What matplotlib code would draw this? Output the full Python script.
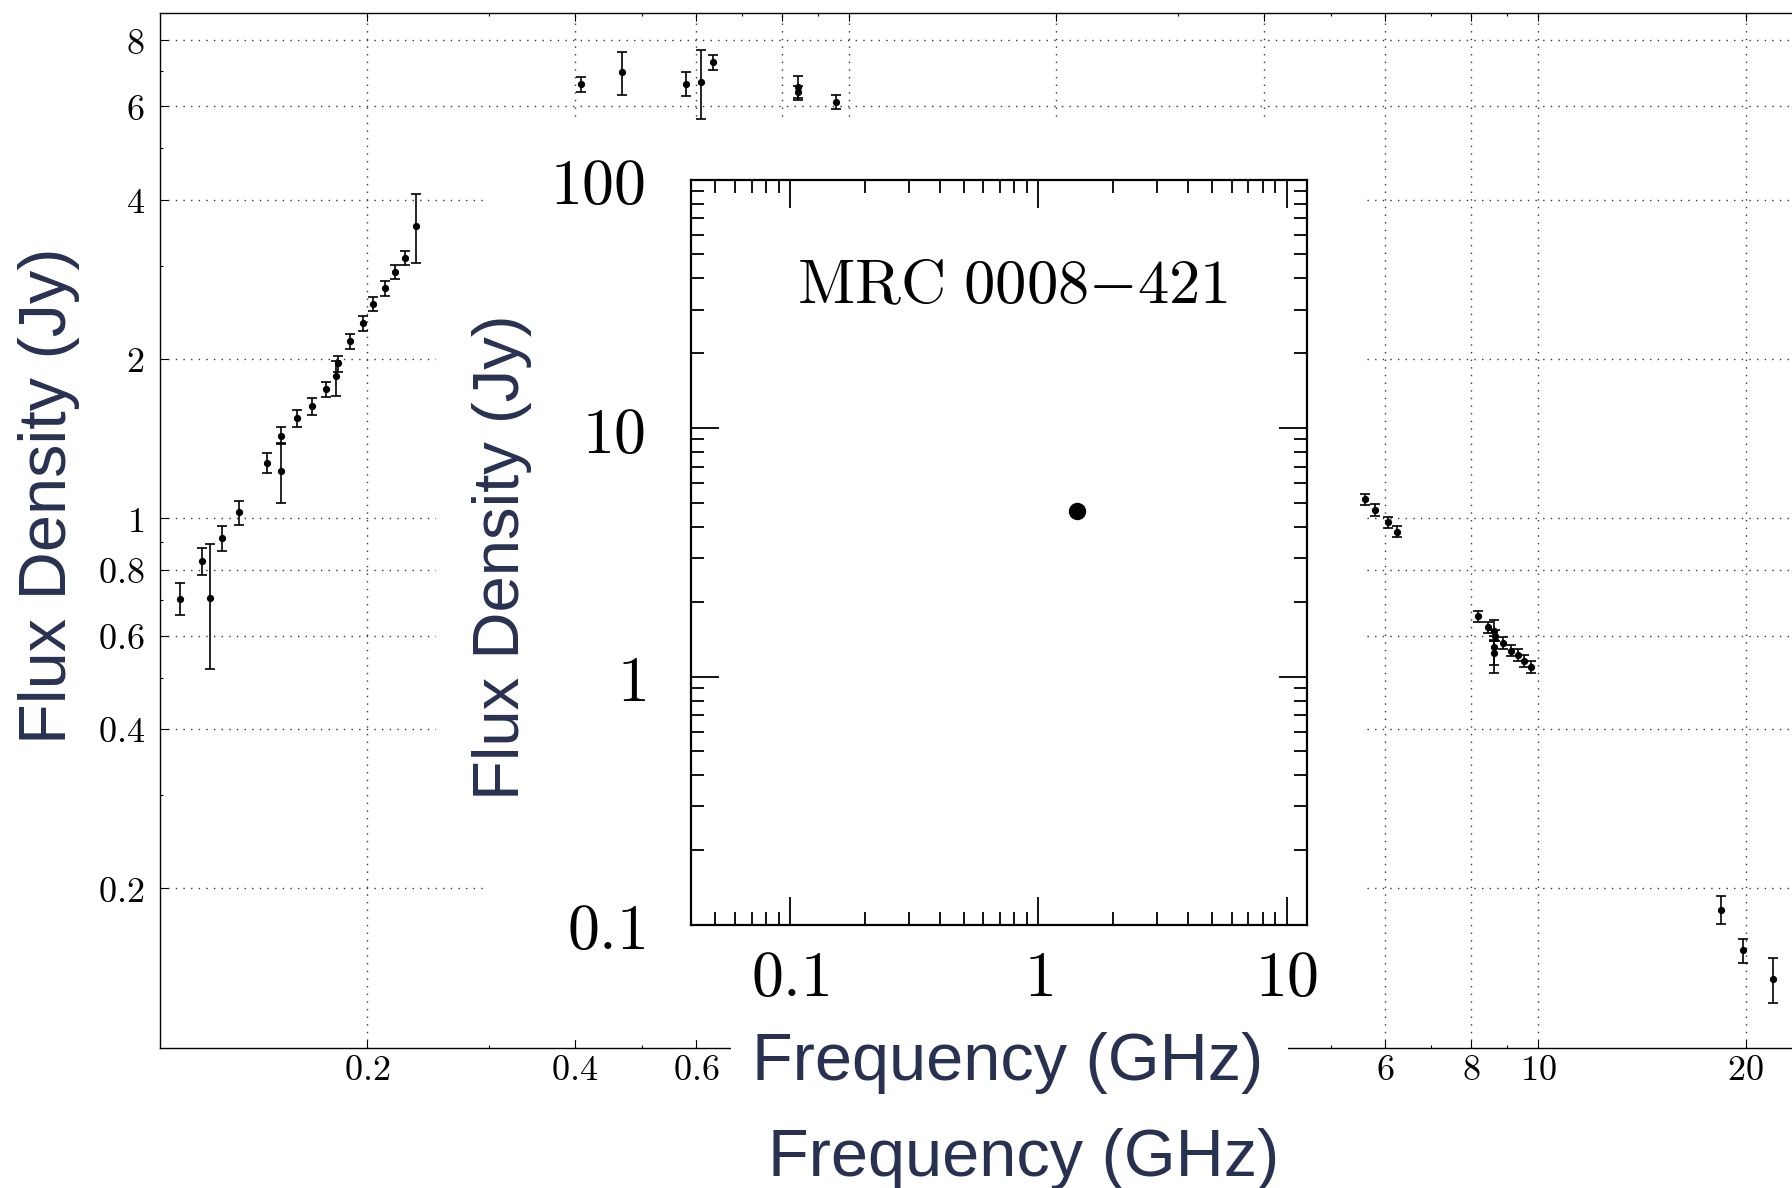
import matplotlib
matplotlib.use('Agg')
import matplotlib.pyplot as plt
import numpy as np
from matplotlib.patches import Rectangle
from matplotlib.ticker import FixedLocator, FixedFormatter, NullFormatter, LogLocator

plt.rcParams['mathtext.fontset'] = 'cm'

# ---------------- data (main spectrum) ----------------
freq = [0.107, 0.115, 0.118, 0.123, 0.130, 0.143, 0.150, 0.150, 0.158, 0.166,
        0.174, 0.180, 0.181, 0.189, 0.197, 0.204, 0.212, 0.219, 0.227, 0.235,
        0.408, 0.468, 0.579, 0.610, 0.635, 0.842, 0.842, 0.958,
        5.60, 5.80, 6.05, 6.25,
        8.19, 8.46, 8.62, 8.67, 8.90, 8.62, 8.62, 9.13, 9.34, 9.55, 9.75,
        18.45, 19.84, 21.95]
flux = [0.705, 0.829, 0.708, 0.918, 1.026, 1.273, 1.433, 1.229, 1.546, 1.628,
        1.751, 1.860, 1.963, 2.160, 2.339, 2.540, 2.719, 2.923, 3.097, 3.569,
        6.616, 6.958, 6.616, 6.680, 7.265, 6.530, 6.380, 6.126,
        1.087, 1.036, 0.984, 0.943,
        0.653, 0.622, 0.613, 0.600, 0.581, 0.572, 0.556, 0.562, 0.552, 0.537, 0.524,
        0.182, 0.153, 0.1345]
flux_lo = [0.655, 0.780, 0.519, 0.867, 0.971, 1.215, 1.388, 1.070, 1.486, 1.568,
           1.691, 1.705, 1.892, 2.088, 2.262, 2.460, 2.634, 2.836, 3.004, 3.034,
           6.398, 6.296, 6.270, 5.674, 7.031, 6.233, 6.179, 5.924,
           1.060, 1.011, 0.958, 0.920,
           0.636, 0.607, 0.589, 0.587, 0.566, 0.529, 0.511, 0.549, 0.538, 0.524, 0.511,
           0.1715, 0.1443, 0.1213]
flux_hi = [0.755, 0.880, 0.895, 0.968, 1.079, 1.326, 1.486, 1.382, 1.600, 1.688,
           1.809, 1.983, 2.023, 2.229, 2.415, 2.618, 2.806, 3.008, 3.197, 4.097,
           6.808, 7.612, 6.958, 7.680, 7.489, 6.845, 6.568, 6.306,
           1.112, 1.062, 1.007, 0.965,
           0.668, 0.636, 0.643, 0.615, 0.596, 0.599, 0.587, 0.577, 0.566, 0.551, 0.538,
           0.1935, 0.1605, 0.1473]

x_major = [0.2, 0.4, 0.6, 0.8, 1, 2, 4, 6, 8, 10, 20]
# labels of 0.8, 1, 2 and 4 are covered by the pasted inset in the reference
x_major_labels = ['0.2', '0.4', '0.6', '', '', '', '', '6', '8', '10', '20']
x_minor = [0.3, 0.5, 0.7, 0.9, 3, 5, 7, 9]
y_major = [0.2, 0.4, 0.6, 0.8, 1, 2, 4, 6, 8]
y_major_labels = ['0.2', '0.4', '0.6', '0.8', '1', '2', '4', '6', '8']
y_minor = [0.3, 0.5, 0.7, 0.9, 3, 5, 7]

# ---------------- data (inset) ----------------
inset_freq = [1.43]
inset_flux = [4.65]
inset_x_ticks = [0.1, 1, 10]
inset_x_labels = ['0.1', '1', '10']
inset_y_ticks = [0.1, 1, 10, 100]
inset_y_labels = ['0.1', '1', '10', '100']
source_name = r'$\mathrm{MRC\ 0008{-}421}$'

label_color = '#283250'

W, H = 1792, 1188
fig = plt.figure(figsize=(W / 100, H / 100), dpi=100)


def fx(px):
    return px / W


def fy(py):
    return 1 - py / H


def fmt(s):
    return '$%s$' % s if s else ''


# ---------------- main axes ----------------
ax = fig.add_axes([fx(160), fy(1047.5), 1 - fx(160), (1047.5 - 13.2) / H])
ax.set_zorder(0)
ax.set_axisbelow(True)
ax.set_xscale('log')
ax.set_yscale('log')
ax.set_xlim(0.1, 23.36)
ax.set_ylim(0.1, 9)

f = np.array(flux)
yerr = [f - np.array(flux_lo), np.array(flux_hi) - f]
ax.errorbar(freq, flux, yerr=yerr, fmt='o', color='black', ms=4.2,
            elinewidth=1.2, capsize=3.8, capthick=1.2, zorder=3)

ax.xaxis.set_major_locator(FixedLocator(x_major))
ax.xaxis.set_major_formatter(FixedFormatter([fmt(s) for s in x_major_labels]))
ax.xaxis.set_minor_locator(FixedLocator(x_minor))
ax.xaxis.set_minor_formatter(NullFormatter())
ax.yaxis.set_major_locator(FixedLocator(y_major))
ax.yaxis.set_major_formatter(FixedFormatter([fmt(s) for s in y_major_labels]))
ax.yaxis.set_minor_locator(FixedLocator(y_minor))
ax.yaxis.set_minor_formatter(NullFormatter())

ax.tick_params(which='both', direction='in', top=True, right=False,
               bottom=True, left=True, color='black')
ax.tick_params(which='major', length=5.5, width=0.8, labelsize=26)
ax.tick_params(which='minor', length=2.5, width=0.8)
ax.tick_params(axis='x', which='major', pad=4)
ax.tick_params(axis='y', which='major', pad=11)
ax.grid(True, which='major', linestyle=(0, (1, 4.5)), linewidth=1.0, color='#333333')
for s in ['left', 'bottom', 'top']:
    ax.spines[s].set_linewidth(1.0)
ax.spines['right'].set_visible(False)

# ---------------- white background of the pasted inset ----------------
# parts that only hide grid lines (drawn under the data points)
for (x0, y0, x1, y1) in [(483, 120, 1366, 1040), (436, 250, 483, 850)]:
    ax.add_patch(Rectangle((fx(x0), fy(y1)), (x1 - x0) / W, (y1 - y0) / H,
                           transform=fig.transFigure, facecolor='white',
                           edgecolor='none', zorder=1))
# part that hides the bottom spine behind the inset's x label
fig.add_artist(Rectangle((fx(731), fy(1100)), (1288 - 731) / W, (1100 - 1000) / H,
                         transform=fig.transFigure, facecolor='white',
                         edgecolor='none', zorder=5))

# ---------------- inset axes ----------------
ins = fig.add_axes([fx(691.3), fy(925), (1306.5 - 691.3) / W, (925 - 179.6) / H])
ins.set_zorder(6)
ins.set_facecolor('white')
ins.set_xscale('log')
ins.set_yscale('log')
ins.set_xlim(0.04, 12)
ins.set_ylim(0.1, 100)
ins.plot(inset_freq, inset_flux, 'o', color='black', ms=11.5)

ins.xaxis.set_major_locator(FixedLocator(inset_x_ticks))
ins.xaxis.set_major_formatter(FixedFormatter([fmt(s) for s in inset_x_labels]))
ins.yaxis.set_major_locator(FixedLocator(inset_y_ticks))
ins.yaxis.set_major_formatter(FixedFormatter([fmt(s) for s in inset_y_labels]))
for a in (ins.xaxis, ins.yaxis):
    a.set_minor_locator(LogLocator(base=10, subs=np.arange(2, 10), numticks=30))
    a.set_minor_formatter(NullFormatter())
ins.tick_params(which='both', direction='in', top=True, right=True,
                bottom=True, left=True, color='black')
ins.tick_params(which='major', length=20, width=1.3, labelsize=46)
ins.tick_params(which='minor', length=9.5, width=1.3)
ins.tick_params(axis='x', which='major', pad=16)
ins.tick_params(axis='y', which='major', pad=33)
for s in ins.spines.values():
    s.set_linewidth(1.6)

fig.text(fx(796.6), fy(302.9), source_name, fontsize=45, ha='left',
         va='baseline', zorder=7)

# ---------------- axis labels ----------------
lab = dict(color=label_color, family=['Liberation Sans', 'DejaVu Sans'], zorder=7)
fig.text(fx(18.4), 0.5825, 'Flux Density (Jy)', rotation=90, ha='left',
         va='center', fontsize=48, **lab)
fig.text(fx(472), 0.5311, 'Flux Density (Jy)', rotation=90, ha='left',
         va='center', fontsize=47, **lab)
fig.text(fx(1024), fy(1176), 'Frequency (GHz)', ha='center', va='baseline',
         fontsize=48, **lab)
fig.text(fx(1007.4), fy(1080), 'Frequency (GHz)', ha='center', va='baseline',
         fontsize=48, **lab)

fig.savefig('out.png', dpi=100)
